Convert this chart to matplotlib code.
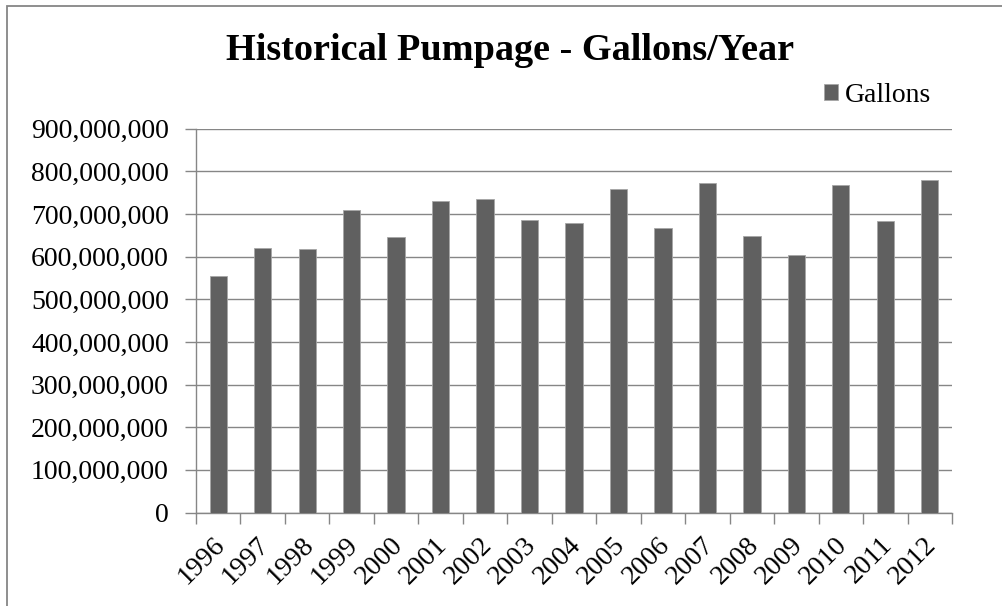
import matplotlib
matplotlib.use("Agg")
import matplotlib.pyplot as plt
import matplotlib.transforms as mtransforms
from matplotlib.patches import Rectangle
from matplotlib.ticker import FuncFormatter, MultipleLocator, FixedLocator

years = ["1996", "1997", "1998", "1999", "2000", "2001", "2002", "2003", "2004",
         "2005", "2006", "2007", "2008", "2009", "2010", "2011", "2012"]
gallons = [555e6, 620e6, 619e6, 710e6, 645e6, 730e6, 735e6, 687e6, 680e6,
           759e6, 666e6, 772e6, 649e6, 605e6, 769e6, 683e6, 780e6]
title = "Historical Pumpage - Gallons/Year"
series_name = "Gallons"

plt.rcParams['font.family'] = ['Liberation Serif', 'DejaVu Serif']

W, H = 1003, 606
fig = plt.figure(figsize=(W / 100, H / 100), dpi=100)
fig.patch.set_facecolor('white')

# outer chart border
fig.patches.append(Rectangle((7 / W, -0.1), 1.2, 1 - 6 / H + 0.1, transform=fig.transFigure,
                             fill=False, edgecolor='#868686', linewidth=1.3))

ax = fig.add_axes([196 / W, 1 - 512.5 / H, 756 / W, (512.5 - 128.7) / H])
x = list(range(len(years)))
bars = ax.bar(x, gallons, width=0.39, color='#606060', edgecolor='#a6a6a6',
              linewidth=0.6, zorder=3, label=series_name)

ax.set_xlim(-0.5, len(years) - 0.5)
ax.set_ylim(0, 900e6)
ax.yaxis.set_major_locator(MultipleLocator(100e6))
ax.yaxis.set_major_formatter(FuncFormatter(lambda v, p: f"{int(round(v)):,}"))
ax.grid(axis='y', color='#868686', linewidth=1.0, zorder=0)

ax.set_xticks(x)
ax.set_xticklabels(years, rotation=45, ha='right', rotation_mode='anchor', fontsize=20)
ax.xaxis.set_major_locator(FixedLocator(x))
ax.tick_params(axis='x', which='major', length=0, pad=13)
ax.set_xticks([i - 0.5 for i in range(len(years) + 1)], minor=True)
ax.tick_params(axis='x', which='minor', length=8, width=1.0, color='#868686', direction='out')
ax.tick_params(axis='y', length=8, width=1.0, color='#868686', direction='out', labelsize=20, pad=11.5)

offset = mtransforms.ScaledTranslation(-6 / 100, -2 / 100, fig.dpi_scale_trans)
for lbl in ax.get_xticklabels():
    lbl.set_transform(lbl.get_transform() + offset)

for s in ['top', 'right']:
    ax.spines[s].set_visible(False)
for s in ['left', 'bottom']:
    ax.spines[s].set_color('#868686')
    ax.spines[s].set_linewidth(1.0)
ax.set_axisbelow(True)

fig.text(510 / W, 1 - 51 / H, title, ha='center', va='center', fontsize=27.5, fontweight='bold')

ax.legend(handles=[bars], loc='center left', bbox_to_anchor=(824 / W, 1 - 95 / H),
          bbox_transform=fig.transFigure, frameon=False, handlelength=0.5, handleheight=0.5,
          handletextpad=0.25, borderpad=0, borderaxespad=0, fontsize=20)

fig.savefig("out.png", dpi=100, facecolor='white')
